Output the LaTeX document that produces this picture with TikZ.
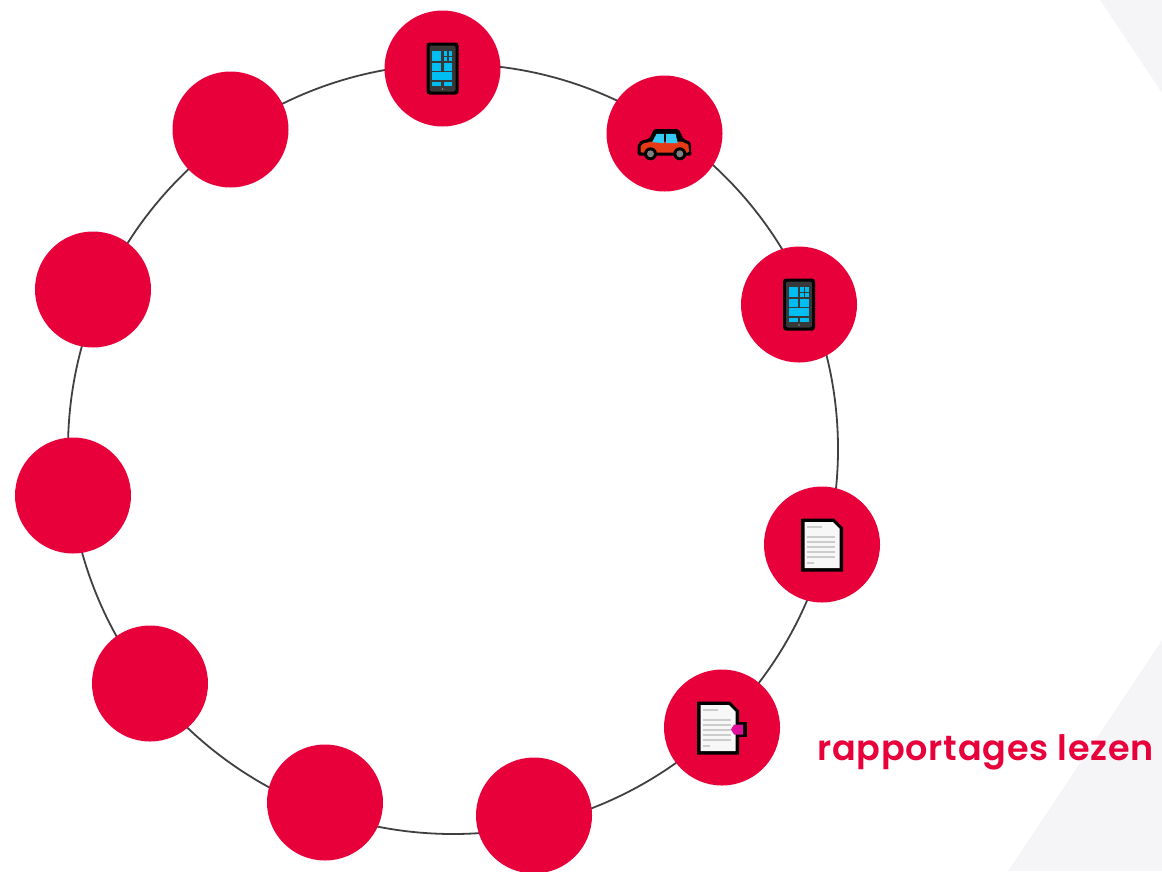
\documentclass[tikz,border=0pt]{standalone}
\usepackage{fontspec}
\setsansfont{Poppins}[BoldFont=* SemiBold, LetterSpace=2.3]
\definecolor{dotred}{HTML}{E8003B}
\definecolor{bgshape}{HTML}{F5F5F8}
\definecolor{ringgray}{HTML}{404040}
\definecolor{tilecyan}{HTML}{00BDF2}
\definecolor{carred}{HTML}{E63A17}
\definecolor{pinpink}{HTML}{E0109A}
\tikzset{
  reddot/.style={circle, fill=dotred, minimum size=116pt, inner sep=0pt},
  tile/.style={fill=tilecyan},
  docline/.style={gray!40, line width=2.2pt},
  phoneicon/.pic={
    \fill[black, rounded corners=3pt] (-16,-26) rectangle (16,26);
    \fill[black!78, rounded corners=2pt] (-13,-23) rectangle (13,23);
    \fill[tile] (-10.3,-17.3) rectangle (-1.3,-7.3);
    \fill[tile] (1.3,-17.3) rectangle (4.8,-13);
    \fill[tile] (6.2,-17.3) rectangle (9.7,-13);
    \fill[tile] (1.3,-11.6) rectangle (4.8,-7.3);
    \fill[tile] (6.2,-11.6) rectangle (9.7,-7.3);
    \fill[tile] (-10.3,-6) rectangle (-1.3,2);
    \fill[tile] (1.3,-6) rectangle (9.7,2);
    \fill[tile] (-10.3,3.7) rectangle (9.7,11.3);
    \fill[tile] (-10.3,13) rectangle (-1.3,17);
    \fill[tile] (1.3,13) rectangle (9.7,17);
    \fill[gray] (0,20.5) circle (1pt);
  },
  docicon/.pic={
    \fill[black] (-21,-26) -- (12,-26) -- (21,-17) -- (21,27) -- (-21,27) -- cycle;
    \fill[black!3] (-17.5,-22.5) -- (11,-22.5) -- (17.5,-16) -- (17.5,23.5) -- (-17.5,23.5) -- cycle;
    \draw[docline] (-15.3,-17.3) -- (0.3,-17.3);
    \draw[docline] (-15.3,-7.3) -- (13,-7.3);
    \draw[docline] (-15.3,-2.3) -- (13,-2.3);
    \draw[docline] (-15.3,2.7) -- (13,2.7);
    \draw[docline] (-15.3,7.7) -- (13,7.7);
    \draw[docline] (-15.3,12.7) -- (13,12.7);
    \draw[docline] (-15.3,18.3) -- (-8,18.3);
  }
}
\begin{document}
\begin{tikzpicture}[x=1pt, y=-1pt]
\useasboundingbox (0,0) rectangle (1162,871);
\fill[bgshape] (1100,0) -- (1162,93) -- (1162,0) -- cycle;
\fill[bgshape] (1162,640) -- (1008,871) -- (1162,871) -- cycle;

\coordinate (ringcenter) at (453,449);
\draw[ringgray, line width=1.8pt] (ringcenter) circle (385pt);

\node[reddot] (phonetop) at (442.5,68.5) {};
\node[reddot] (car) at (664.5,133.5) {};
\node[reddot] (phoneright) at (799,304.5) {};
\node[reddot] (doc) at (822,544.5) {};
\node[reddot] (docpin) at (722,727.5) {};
\node[reddot] (dotf) at (534,815.5) {};
\node[reddot] (dotg) at (325,802.5) {};
\node[reddot] (doth) at (150,683.5) {};
\node[reddot] (doti) at (73,495.5) {};
\node[reddot] (dotj) at (93,289.5) {};
\node[reddot] (dotk) at (230.5,129.5) {};

\pic at (phonetop) {phoneicon};
\pic at (phoneright) {phoneicon};
\pic at (doc) {docicon};

\begin{scope}[shift={(car)}]
\fill[black, rounded corners=1.5pt] (-27,22) -- (-27,12) -- (-24,7.5) -- (-15,5) -- (-10.5,-4.5) -- (14,-4.5) -- (19,5.5) -- (26,8.5) -- (27,22) -- cycle;
\fill[carred, rounded corners=1pt] (-24,19) -- (-24,13) -- (-21.5,10) -- (-13,8) -- (17,8) -- (24,11) -- (24.5,19) -- cycle;
\fill[tilecyan!80!white] (-12.3,8.7) -- (-8,0.3) -- (-0.7,0.3) -- (-0.7,9.7) -- cycle;
\fill[tilecyan!80!white] (1.7,0.3) -- (11,0.3) -- (13.3,9.7) -- (1.7,9.7) -- cycle;
\fill[black] (-14,20.3) circle (6.5pt);
\fill[black] (15.3,20.3) circle (6.5pt);
\fill[gray] (-14,20.3) circle (3.5pt);
\fill[gray] (15.3,20.3) circle (3.5pt);
\end{scope}

\begin{scope}[shift={(docpin)}]
\fill[black] (17,-5.3) -- (25,-5.3) -- (25,9.7) -- (17,9.7) -- cycle;
\pic at (-4,0) {docicon};
\fill[pinpink] (9,2) -- (12,-3) -- (21,-3) -- (21,7) -- (12,7) -- cycle;
\end{scope}

\node[anchor=base west, inner sep=0pt, text=dotred] (lezen) at (817,760)
  {\fontsize{35pt}{40pt}\sffamily\bfseries rapportages lezen};
\end{tikzpicture}
\end{document}
